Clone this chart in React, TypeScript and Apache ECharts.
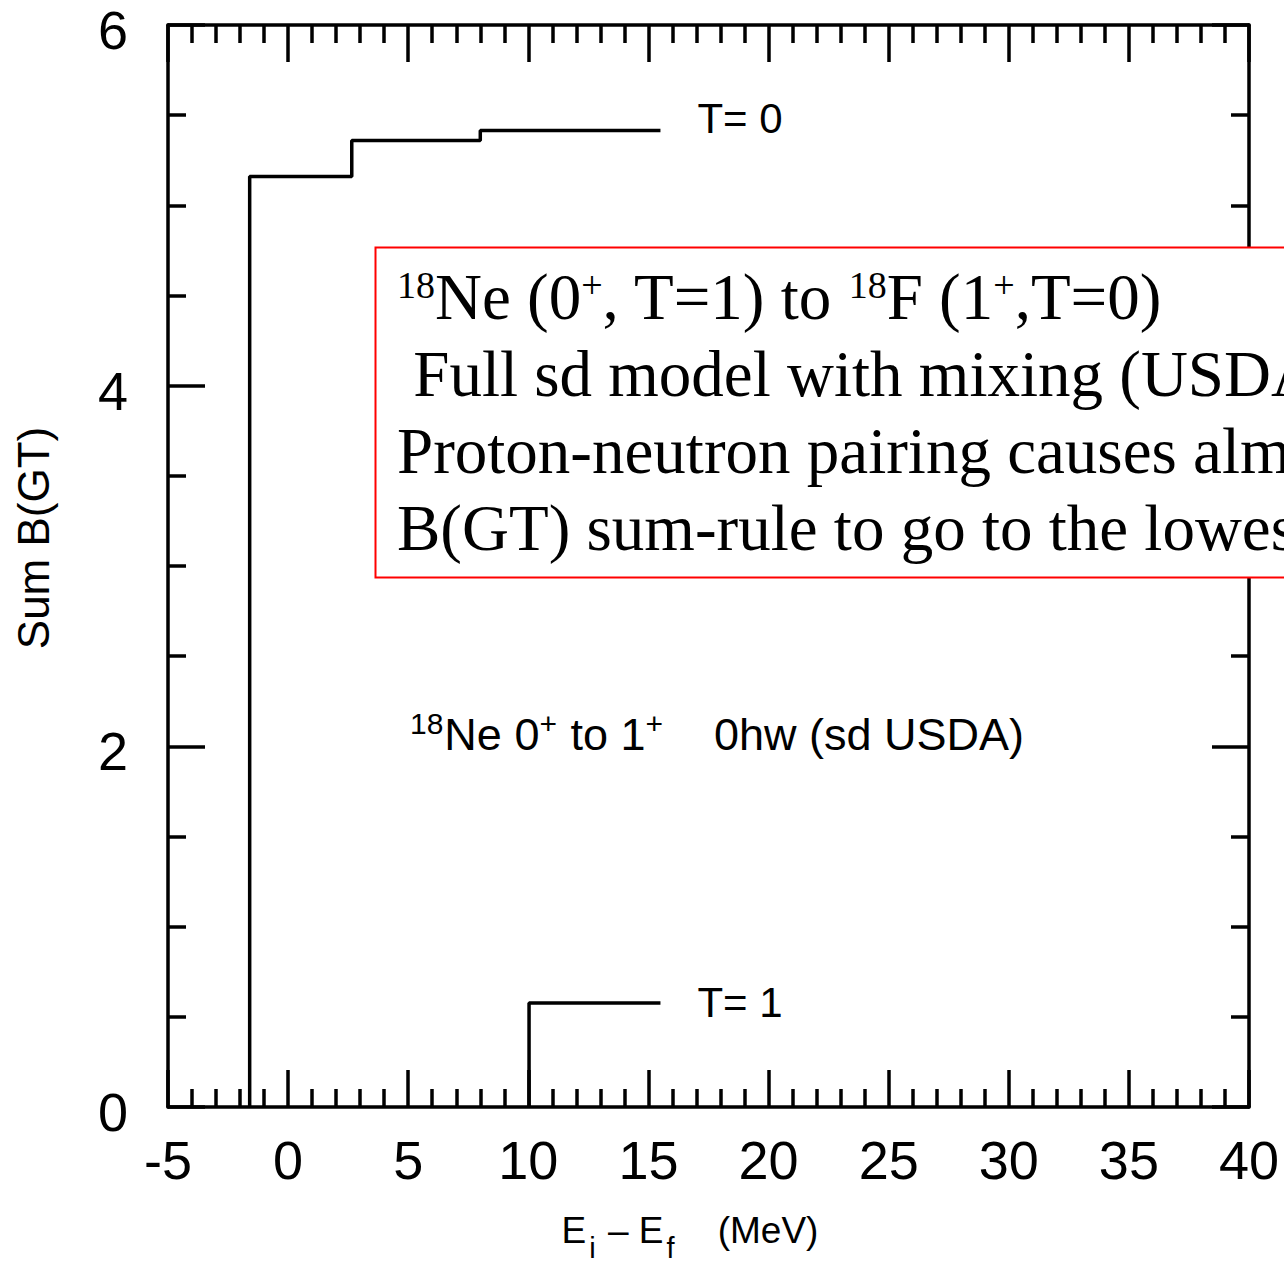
import React, { useEffect, useRef } from "react";
import * as echarts from "echarts";

// Axes
const xMin = -5;
const xMax = 40;
const xInterval = 5;
const yMin = 0;
const yMax = 6;
const yInterval = 2;

// T = 0 cumulative B(GT) steps (energy in MeV, running sum)
const t0Energies = [-1.6, 2.65, 8.0];
const t0Sums = [5.16, 5.36, 5.415];
const t0End = 15.5;

// T = 1 cumulative B(GT) steps
const t1Energies = [10.03];
const t1Sums = [0.577];
const t1End = 15.5;

const t0Label = "T= 0";
const t1Label = "T= 1";

const SANS = "'Liberation Sans', Arial, Helvetica, sans-serif";
const SERIF = "'Liberation Serif', 'Times New Roman', Times, serif";

function stepPoints(energies: number[], sums: number[], end: number) {
  const pts: number[][] = [[energies[0], 0]];
  energies.forEach((e, i) => pts.push([e, sums[i]]));
  pts.push([end, sums[sums.length - 1]]);
  return pts;
}

const axisLineStyle = { color: "#000", width: 3.5 };

function makeX(position: "bottom" | "top", showLabels: boolean) {
  return {
    type: "value",
    min: xMin,
    max: xMax,
    interval: xInterval,
    position,
    axisLine: { show: true, onZero: false, lineStyle: axisLineStyle },
    axisTick: { show: true, inside: true, length: 37, lineStyle: axisLineStyle },
    minorTick: { show: true, splitNumber: 5, length: 18, lineStyle: axisLineStyle },
    splitLine: { show: false },
    minorSplitLine: { show: false },
    axisLabel: {
      show: showLabels,
      fontSize: 54,
      color: "#000",
      fontFamily: SANS,
      margin: 26,
    },
  };
}

function makeY(position: "left" | "right", showLabels: boolean) {
  return {
    type: "value",
    min: yMin,
    max: yMax,
    interval: yInterval,
    position,
    axisLine: { show: true, onZero: false, lineStyle: axisLineStyle },
    axisTick: { show: true, inside: true, length: 37, lineStyle: axisLineStyle },
    minorTick: { show: true, splitNumber: 4, length: 18, lineStyle: axisLineStyle },
    splitLine: { show: false },
    minorSplitLine: { show: false },
    axisLabel: {
      show: showLabels,
      color: "#000",
      margin: 40,
      formatter: "{v|{value}}",
      rich: {
        v: {
          fontSize: 54,
          lineHeight: 54,
          color: "#000",
          fontFamily: SANS,
          padding: [10, 0, 0, 0],
        },
      },
    },
  };
}

export default function App() {
  const ref = useRef<HTMLDivElement>(null);

  useEffect(() => {
    if (!ref.current) return;
    const chart = echarts.init(ref.current, null, { renderer: "svg" });

    const xBottom: any = makeX("bottom", true);
    xBottom.name = "{m|E}{s|i}{m| – E}{s|f}{m|    (MeV)}";
    xBottom.nameLocation = "middle";
    xBottom.nameGap = 105;
    xBottom.nameTextStyle = {
      color: "#000",
      fontFamily: SANS,
      fontSize: 37,
      padding: [0, 37, 0, 0],
      rich: {
        m: { fontSize: 37, lineHeight: 40, fontFamily: SANS, color: "#000", verticalAlign: "top" },
        s: {
          fontSize: 29,
          lineHeight: 28,
          fontFamily: SANS,
          color: "#000",
          verticalAlign: "top",
          padding: [21, 2, 0, 3],
        },
      },
    };

    const yLeft: any = makeY("left", true);
    yLeft.name = "Sum B(GT)";
    yLeft.nameLocation = "middle";
    yLeft.nameGap = 113;
    yLeft.nameTextStyle = {
      color: "#000",
      fontFamily: SANS,
      fontSize: 44,
      padding: [0, 0, 0, 56],
    };

    const option: any = {
      animation: false,
      backgroundColor: "#fff",
      grid: {
        left: 168,
        right: 35,
        top: 25,
        bottom: 158,
        containLabel: false,
        outerBoundsMode: "none",
      },
      xAxis: [xBottom, makeX("top", false)],
      yAxis: [yLeft, makeY("right", false)],
      series: [
        {
          name: "T=0",
          type: "line",
          step: "end",
          xAxisIndex: 0,
          yAxisIndex: 0,
          showSymbol: false,
          symbol: "none",
          lineStyle: { color: "#000", width: 3.5 },
          data: stepPoints(t0Energies, t0Sums, t0End),
          endLabel: {
            show: true,
            formatter: t0Label,
            distance: 37,
            offset: [0, -12],
            fontSize: 42,
            color: "#000",
            fontFamily: SANS,
          },
        },
        {
          name: "T=1",
          type: "line",
          step: "end",
          xAxisIndex: 0,
          yAxisIndex: 0,
          showSymbol: false,
          symbol: "none",
          lineStyle: { color: "#000", width: 3.5 },
          data: stepPoints(t1Energies, t1Sums, t1End),
          endLabel: {
            show: true,
            formatter: t1Label,
            distance: 37,
            fontSize: 42,
            color: "#000",
            fontFamily: SANS,
          },
        },
      ],
      graphic: [
        {
          type: "text",
          z: 50,
          x: 410,
          y: 734,
          style: {
            text: "{sup|18}{m|Ne 0}{sup|+}{m| to 1}{sup|+}{m|    0hw (sd USDA)}",
            verticalAlign: "middle",
            align: "left",
            fill: "#000",
            rich: {
              m: { fontSize: 45, lineHeight: 52, fontFamily: SANS, fill: "#000" },
              sup: {
                fontSize: 30,
                lineHeight: 30,
                fontFamily: SANS,
                fill: "#000",
                padding: [0, 1, 21, 0],
              },
            },
          },
        },
        {
          type: "rect",
          z: 100,
          shape: { x: 375.5, y: 247.5, width: 1000, height: 330 },
          style: { fill: "#fff", stroke: "#ff0000", lineWidth: 2 },
        },
        {
          type: "text",
          z: 101,
          x: 397,
          y: 258,
          style: {
            text:
              "{sup|18}{m|Ne (0}{sup|+}{m|, T=1) to }{sup|18}{m|F (1}{sup|+}{m|,T=0)}\n" +
              "{m| Full sd model with mixing (USDA)}\n" +
              "{m|Proton-neutron pairing causes almost}\n" +
              "{m|B(GT) sum-rule to go to the lowest}",
            verticalAlign: "top",
            align: "left",
            fill: "#000",
            rich: {
              m: { fontSize: 65, lineHeight: 77, fontFamily: SERIF, fill: "#000" },
              sup: {
                fontSize: 38,
                lineHeight: 38,
                fontFamily: SERIF,
                fill: "#000",
                padding: [0, 0, 24, 0],
              },
            },
          },
        },
      ],
    };

    chart.setOption(option);
    return () => chart.dispose();
  }, []);

  return (
    <div
      ref={ref}
      style={{ position: "absolute", left: 0, top: 0, width: 1284, height: 1265, background: "#fff" }}
    />
  );
}
